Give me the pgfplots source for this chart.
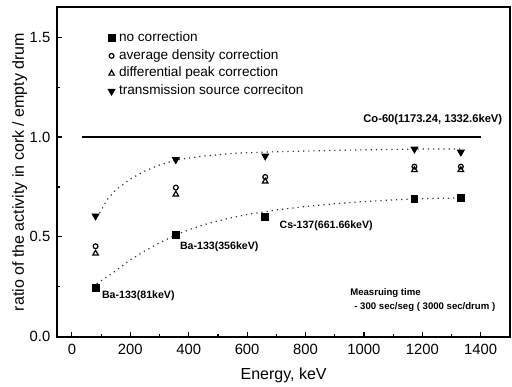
\documentclass[border=0pt]{standalone}
\usepackage{pgfplots}
\pgfplotsset{compat=1.18}
\usepackage{fontspec}
\setmainfont{Liberation Sans}
\begin{document}
\begin{tikzpicture}
\path[use as bounding box] (-28.65pt,-24.65pt) rectangle (227.35pt,168.35pt);
\begin{axis}[
  scale only axis,
  width=226.3pt, height=164.7pt,
  xmin=-50, xmax=1500, ymin=0, ymax=1.65,
  xtick={0,200,...,1400}, minor x tick num=1,
  ytick={0,0.5,1.0,1.5}, minor y tick num=1,
  tick pos=left, tick align=inside,
  major tick length=2.5pt, minor tick length=1.5pt,
  axis line style={line width=0.8pt},
  every tick/.style={line width=0.6pt, black},
  /pgf/number format/assume math mode=true,
  ticklabel style={font=\fontsize{7.4}{8}\selectfont},
  yticklabel style={/pgf/number format/.cd, fixed, fixed zerofill, precision=1},
  xticklabel style={/pgf/number format/.cd, fixed, 1000 sep={}},
  xlabel={Energy, keV},
  ylabel={ratio of the activity in cork / empty drum},
  label style={font=\fontsize{8}{9}\selectfont},
  xlabel style={at={(axis description cs:0.5,-0.116)}, anchor=center},
  ylabel style={at={(axis description cs:-0.083,0.5)}, anchor=center},
  legend style={at={(0.107,0.945)}, anchor=north west,
    draw=none, fill=none, font=\fontsize{6.8}{7}\selectfont,
    row sep=-1.6pt, inner sep=1pt,
    /tikz/every even column/.append style={column sep=2.5pt}},
  legend cell align=left,
]
% fit curves
\addplot[forget plot, dotted, line width=0.6pt, black!80] coordinates {
(85,0.265) (150,0.33) (200,0.385) (250,0.43) (300,0.47) (356,0.51) (400,0.535) (450,0.56) (500,0.58) (550,0.597) (600,0.612) (662,0.626) (700,0.635) (800,0.652) (900,0.666) (1000,0.677) (1100,0.685) (1173,0.69) (1250,0.693) (1332,0.695)};
\addplot[forget plot, dotted, line width=0.6pt, black!80] coordinates {
(95,0.62) (120,0.685) (150,0.735) (200,0.79) (250,0.83) (300,0.86) (357,0.885) (450,0.905) (550,0.918) (662,0.925) (800,0.93) (900,0.933) (1000,0.936) (1100,0.938) (1173,0.94) (1332,0.94)};
% reference line
\addplot[forget plot, black, line width=0.7pt] coordinates {(34,1.0) (1400,1.0)};
% data
\addplot[only marks, mark=square*, mark size=1.7pt, black] coordinates {
(81,0.245) (356,0.51) (662,0.60) (1173,0.69) (1332,0.695)};
\addlegendentry{no correction}
\addplot[only marks, mark=o, mark size=1.2pt, black, mark options={line width=0.6pt}] coordinates {
(81,0.453) (356,0.747) (662,0.80) (1173,0.852) (1332,0.852)};
\addlegendentry{average density correction}
\addplot[only marks, mark=triangle, mark size=1.6pt, black, mark options={line width=0.6pt}] coordinates {
(81,0.417) (356,0.713) (662,0.778) (1173,0.835) (1332,0.835)};
\addlegendentry{differential peak correction}
\addplot[only marks, mark=triangle*, mark size=2pt, black, mark options={rotate=180}] coordinates {
(81,0.605) (356,0.887) (662,0.905) (1173,0.94) (1332,0.925)};
\addlegendentry{transmission source correciton}
% annotations
\node[anchor=east, font=\fontsize{5.6}{6}\selectfont\bfseries, inner sep=0pt] at (axis cs:1475,1.085) {Co-60(1173.24, 1332.6keV)};
\node[anchor=west, font=\fontsize{5.3}{6}\selectfont\bfseries, inner sep=0pt] at (axis cs:102,0.205) {Ba-133(81keV)};
\node[anchor=west, font=\fontsize{5.3}{6}\selectfont\bfseries, inner sep=0pt] at (axis cs:369,0.45) {Ba-133(356keV)};
\node[anchor=west, font=\fontsize{5.3}{6}\selectfont\bfseries, inner sep=0pt] at (axis cs:710,0.555) {Cs-137(661.66keV)};
\node[anchor=west, font=\fontsize{4.8}{5}\selectfont\bfseries, inner sep=0pt] at (axis cs:952,0.217) {Measruing time};
\node[anchor=west, font=\fontsize{4.8}{5}\selectfont\bfseries, inner sep=0pt] at (axis cs:966,0.15) {- 300 sec/seg ( 3000 sec/drum )};
\end{axis}
\end{tikzpicture}
\end{document}
